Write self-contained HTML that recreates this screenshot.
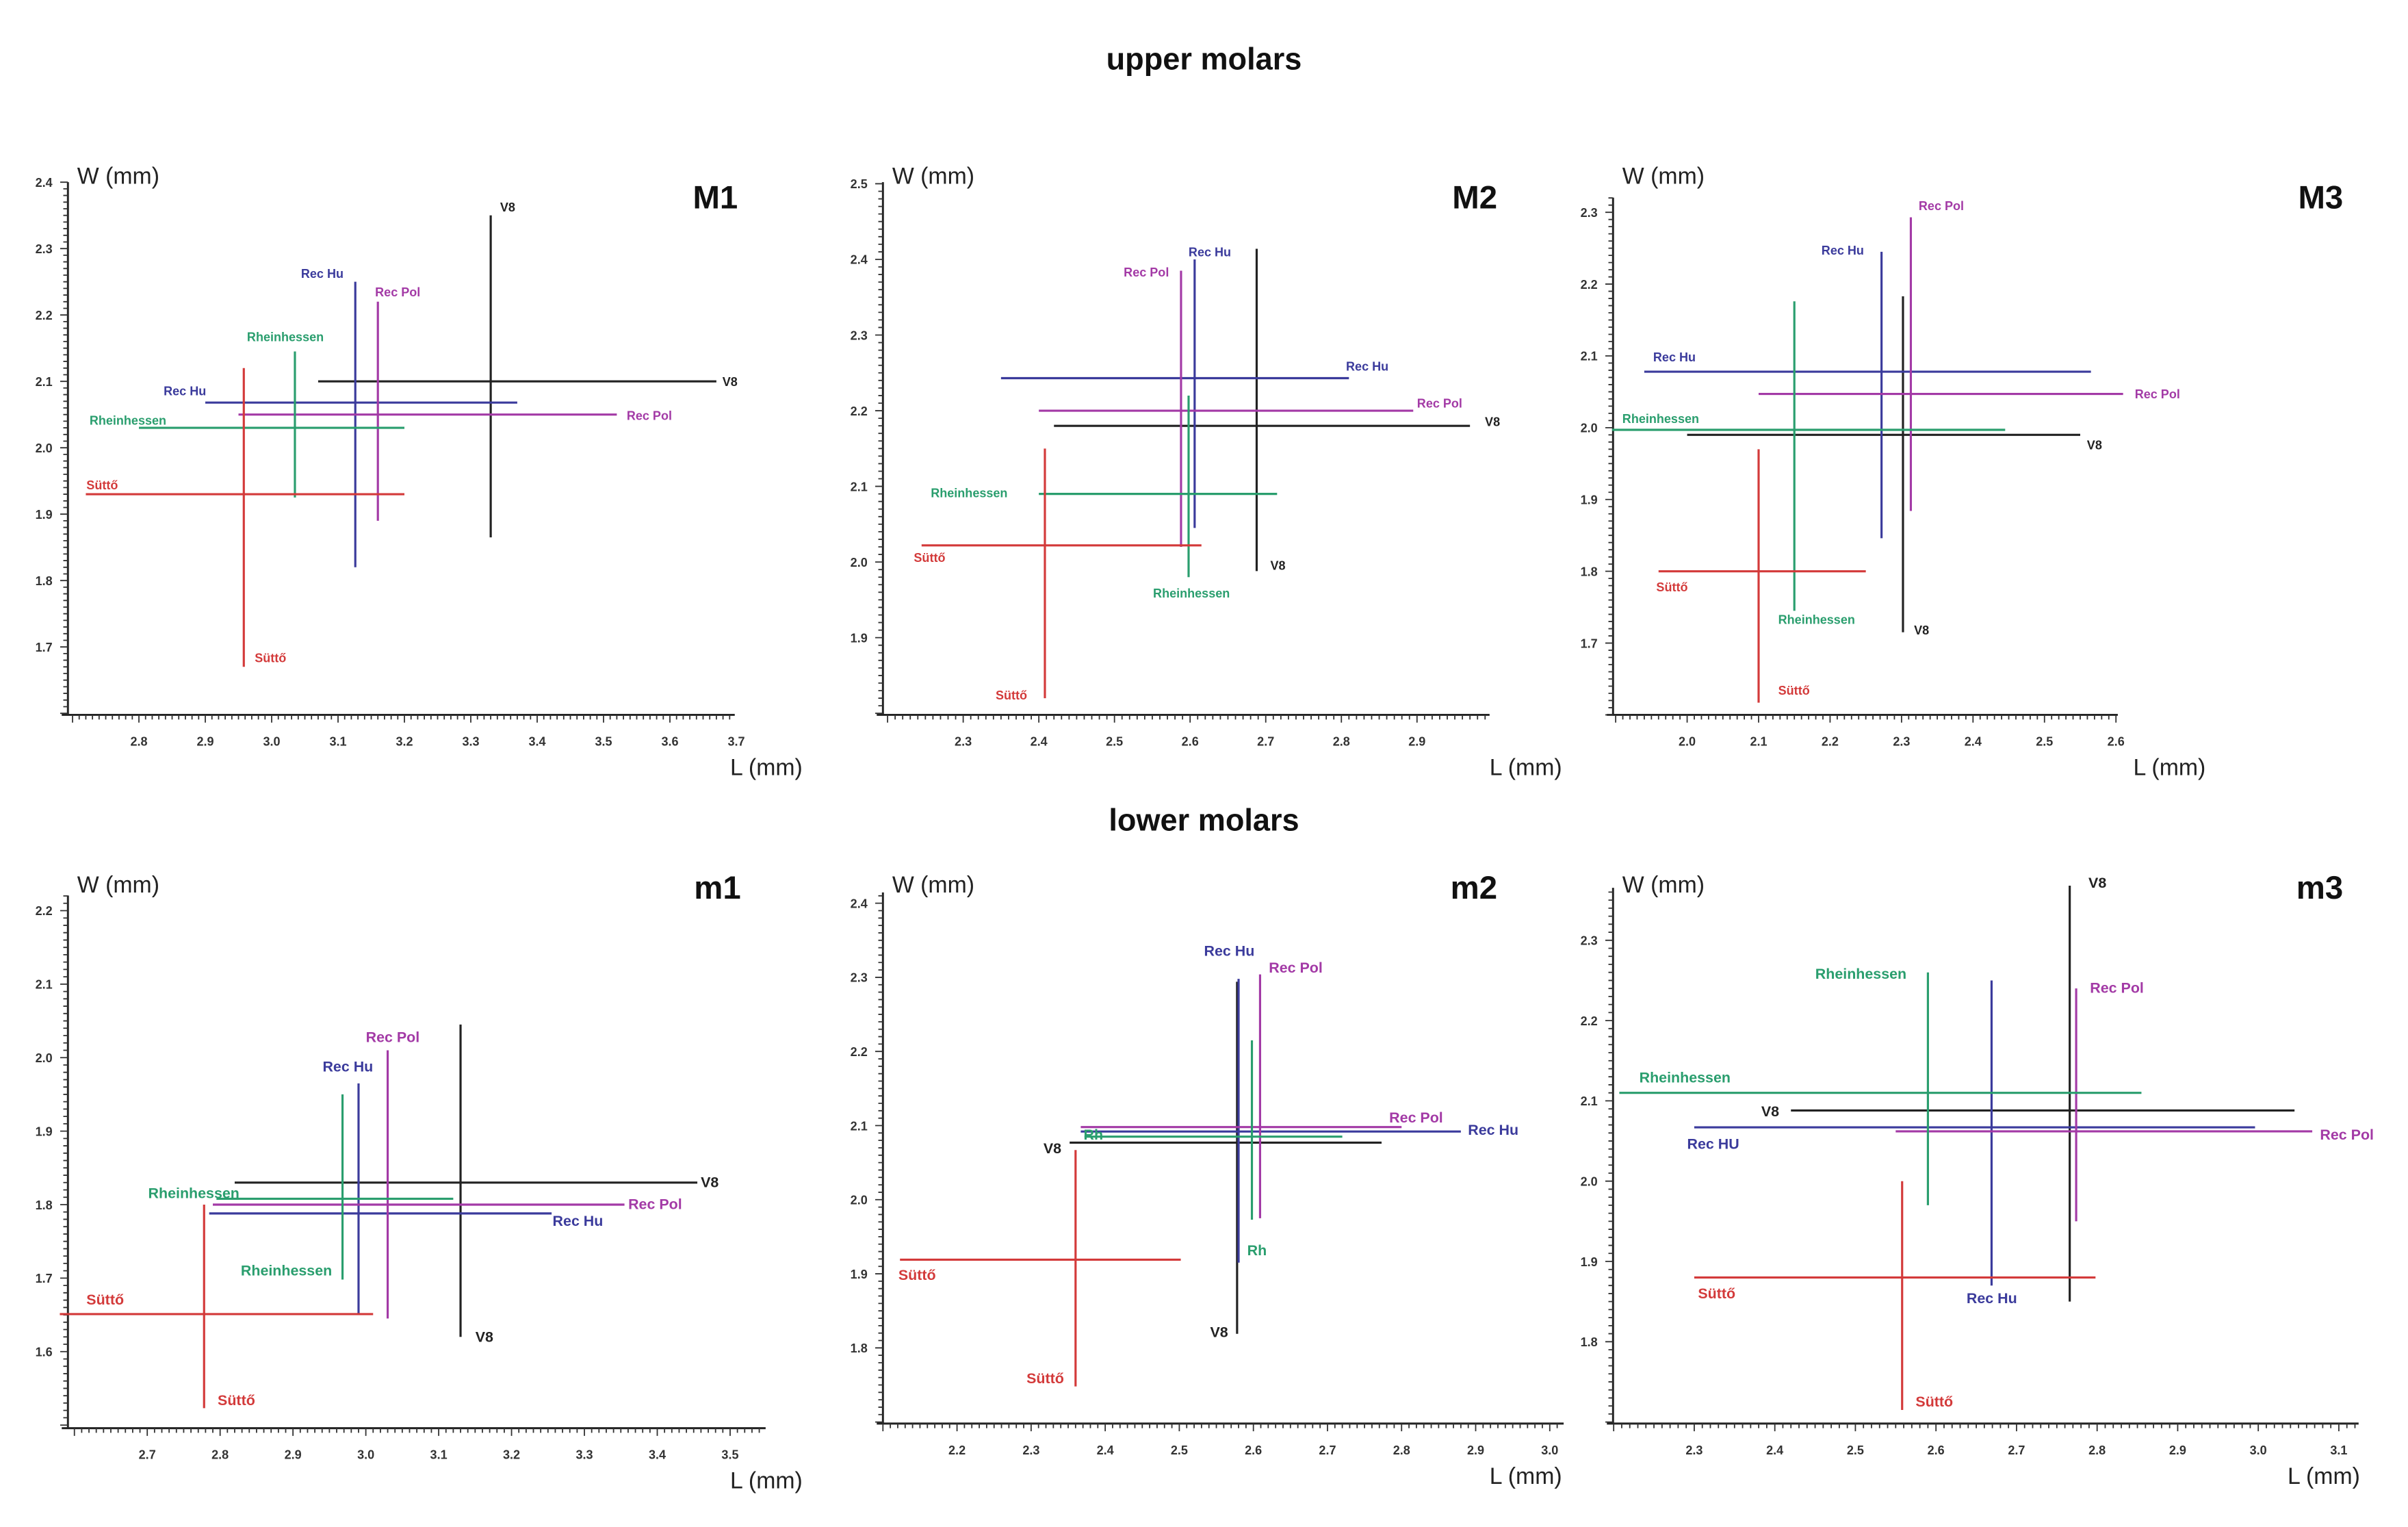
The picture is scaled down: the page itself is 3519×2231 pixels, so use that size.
<!DOCTYPE html>
<html><head><meta charset="utf-8"><style>
html,body{margin:0;padding:0;background:#fff}
svg{display:block}
text{font-family:"Liberation Sans",sans-serif}
</style></head><body>
<svg id="fig" width="3519" height="2231" viewBox="0 0 1560 989" preserveAspectRatio="none" xmlns="http://www.w3.org/2000/svg">
<text x="780" y="45" font-size="20" font-weight="bold" text-anchor="middle" fill="#111">upper molars</text>
<text x="780" y="538" font-size="20" font-weight="bold" text-anchor="middle" fill="#111">lower molars</text>
</svg>
<script>
const groups = ["V8","Rec Hu","Rec Pol","Rheinhessen","Süttő"];
// M1
const M1_lMean=[3.33,3.126,3.16,3.035,2.958];
const M1_lMin=[3.07,2.90,2.95,2.80,2.72];
const M1_lMax=[3.67,3.37,3.52,3.20,3.20];
const M1_wMean=[2.10,2.068,2.05,2.03,1.93];
const M1_wMin=[1.865,1.82,1.89,1.925,1.67];
const M1_wMax=[2.35,2.25,2.22,2.145,2.12];
const M1_xTicks=["2.8","2.9","3.0","3.1","3.2","3.3","3.4","3.5","3.6","3.7"];
const M1_yTicks=["1.7","1.8","1.9","2.0","2.1","2.2","2.3","2.4"];
// M2
const M2_lMean=[2.688,2.606,2.588,2.598,2.408];
const M2_lMin=[2.42,2.35,2.40,2.40,2.245];
const M2_lMax=[2.97,2.81,2.895,2.715,2.615];
const M2_wMean=[2.18,2.243,2.20,2.09,2.022];
const M2_wMin=[1.988,2.045,2.02,1.98,1.82];
const M2_wMax=[2.414,2.40,2.385,2.22,2.15];
const M2_xTicks=["2.3","2.4","2.5","2.6","2.7","2.8","2.9"];
const M2_yTicks=["1.9","2.0","2.1","2.2","2.3","2.4","2.5"];
// M3
const M3_lMean=[2.302,2.272,2.313,2.15,2.10];
const M3_lMin=[2.00,1.94,2.10,1.895,1.96];
const M3_lMax=[2.55,2.565,2.61,2.445,2.25];
const M3_wMean=[1.99,2.078,2.047,1.997,1.80];
const M3_wMin=[1.715,1.846,1.884,1.745,1.617];
const M3_wMax=[2.183,2.245,2.293,2.176,1.97];
const M3_xTicks=["2.0","2.1","2.2","2.3","2.4","2.5","2.6"];
const M3_yTicks=["1.7","1.8","1.9","2.0","2.1","2.2","2.3"];
// m1
const m1_lMean=[3.13,2.99,3.03,2.968,2.778];
const m1_lMin=[2.82,2.785,2.79,2.795,2.58];
const m1_lMax=[3.455,3.255,3.355,3.12,3.01];
const m1_wMean=[1.83,1.788,1.80,1.808,1.651];
const m1_wMin=[1.62,1.65,1.645,1.698,1.523];
const m1_wMax=[2.045,1.965,2.01,1.95,1.80];
const m1_xTicks=["2.7","2.8","2.9","3.0","3.1","3.2","3.3","3.4","3.5"];
const m1_yTicks=["1.6","1.7","1.8","1.9","2.0","2.1","2.2"];
// m2
const m2_lMean=[2.578,2.58,2.609,2.598,2.36];
const m2_lMin=[2.352,2.367,2.367,2.372,2.123];
const m2_lMax=[2.773,2.88,2.80,2.72,2.502];
const m2_wMean=[2.077,2.092,2.098,2.085,1.919];
const m2_wMin=[1.819,1.915,1.975,1.973,1.748];
const m2_wMax=[2.294,2.298,2.304,2.215,2.067];
const m2_xTicks=["2.2","2.3","2.4","2.5","2.6","2.7","2.8","2.9","3.0"];
const m2_yTicks=["1.8","1.9","2.0","2.1","2.2","2.3","2.4"];
// m3
const m3_lMean=[2.766,2.669,2.774,2.59,2.558];
const m3_lMin=[2.42,2.30,2.55,2.207,2.30];
const m3_lMax=[3.045,2.996,3.067,2.855,2.798];
const m3_wMean=[2.088,2.067,2.062,2.11,1.88];
const m3_wMin=[1.85,1.87,1.95,1.97,1.715];
const m3_wMax=[2.368,2.25,2.24,2.26,2.00];
const m3_xTicks=["2.3","2.4","2.5","2.6","2.7","2.8","2.9","3.0","3.1"];
const m3_yTicks=["1.8","1.9","2.0","2.1","2.2","2.3"];

const colors=["#222","#3b3b9c","#a33aa6","#2a9e6e","#d33a3a"];
const NS="http://www.w3.org/2000/svg";
const svg=document.getElementById('fig');
function mk(tag,attrs,parent){const e=document.createElementNS(NS,tag);for(const k in attrs)e.setAttribute(k,attrs[k]);(parent||svg).appendChild(e);return e;}

const panels=[
 {id:"M1",d:[M1_lMean,M1_lMin,M1_lMax,M1_wMean,M1_wMin,M1_wMax],xt:M1_xTicks,yt:M1_yTicks,
  ax:44,axEnd:476,ayTop:118,ayBot:463,xv:2.8,xp:90,xs:430,yv:2.0,yp:290,ys:430,tx:478,ty:135,lx:473,
  labels:[[324,137,0,"V8"],[468,250,0,"V8"],[195,180,1,"Rec Hu"],[106,256,1,"Rec Hu"],[243,192,2,"Rec Pol"],[406,272,2,"Rec Pol"],[160,221,3,"Rheinhessen"],[58,275,3,"Rheinhessen"],[56,317,4,"Süttő"],[165,429,4,"Süttő"]]},
 {id:"M2",d:[M2_lMean,M2_lMin,M2_lMax,M2_wMean,M2_wMin,M2_wMax],xt:M2_xTicks,yt:M2_yTicks,
  ax:572,axEnd:965,ayTop:118,ayBot:463,xv:2.6,xp:771,xs:490,yv:2.0,yp:364,ys:490,tx:970,ty:135,lx:965,
  labels:[[823,369,0,"V8"],[962,276,0,"V8"],[770,166,1,"Rec Hu"],[872,240,1,"Rec Hu"],[728,179,2,"Rec Pol"],[918,264,2,"Rec Pol"],[603,322,3,"Rheinhessen"],[747,387,3,"Rheinhessen"],[592,364,4,"Süttő"],[645,453,4,"Süttő"]]},
 {id:"M3",d:[M3_lMean,M3_lMin,M3_lMax,M3_wMean,M3_wMin,M3_wMax],xt:M3_xTicks,yt:M3_yTicks,
  ax:1045,axEnd:1372,ayTop:128,ayBot:463,xv:2.0,xp:1093,xs:463,yv:2.0,yp:277,ys:465,tx:1518,ty:135,lx:1382,
  labels:[[1240,411,0,"V8"],[1352,291,0,"V8"],[1180,165,1,"Rec Hu"],[1071,234,1,"Rec Hu"],[1243,136,2,"Rec Pol"],[1383,258,2,"Rec Pol"],[1051,274,3,"Rheinhessen"],[1152,404,3,"Rheinhessen"],[1073,383,4,"Süttő"],[1152,450,4,"Süttő"]]},
 {id:"m1",d:[m1_lMean,m1_lMin,m1_lMax,m1_wMean,m1_wMin,m1_wMax],xt:m1_xTicks,yt:m1_yTicks,
  ax:44,axEnd:496,ayTop:580,ayBot:925,xv:3.0,xp:237,xs:472,yv:2.0,yp:685,ys:476,tx:480,ty:582,lx:473,
  labels:[[308,869,0,"V8"],[454,769,0,"V8"],[209,694,1,"Rec Hu"],[358,794,1,"Rec Hu"],[237,675,2,"Rec Pol"],[407,783,2,"Rec Pol"],[96,776,3,"Rheinhessen"],[156,826,3,"Rheinhessen"],[56,845,4,"Süttő"],[141,910,4,"Süttő"]]},
 {id:"m2",d:[m2_lMean,m2_lMin,m2_lMax,m2_wMean,m2_wMin,m2_wMax],xt:m2_xTicks,yt:m2_yTicks,
  ax:572,axEnd:1013,ayTop:578,ayBot:922,xv:2.5,xp:764,xs:480,yv:2.0,yp:777,ys:480,tx:970,ty:582,lx:965,
  labels:[[676,747,0,"V8"],[784,866,0,"V8"],[780,619,1,"Rec Hu"],[951,735,1,"Rec Hu"],[822,630,2,"Rec Pol"],[900,727,2,"Rec Pol"],[702,738,3,"Rh"],[808,813,3,"Rh"],[582,829,4,"Süttő"],[665,896,4,"Süttő"]]},
 {id:"m3",d:[m3_lMean,m3_lMin,m3_lMax,m3_wMean,m3_wMin,m3_wMax],xt:m3_xTicks,yt:m3_yTicks,
  ax:1045,axEnd:1528,ayTop:575,ayBot:922,xv:2.5,xp:1202,xs:522,yv:2.0,yp:765,ys:520,tx:1518,ty:582,lx:1482,
  labels:[[1353,575,0,"V8"],[1141,723,0,"V8"],[1274,844,1,"Rec Hu"],[1093,744,1,"Rec HU"],[1354,643,2,"Rec Pol"],[1503,738,2,"Rec Pol"],[1176,634,3,"Rheinhessen"],[1062,701,3,"Rheinhessen"],[1100,841,4,"Süttő"],[1241,911,4,"Süttő"]]}
];

panels.forEach(p=>{
  const X=v=>p.xp+(v-p.xv)*p.xs;
  const Y=v=>p.yp-(v-p.yv)*p.ys;
  const g=mk('g',{});
  
  
  const ya=mk('line',{x1:p.ax,y1:p.ayTop,x2:p.ax,y2:p.ayBot,stroke:'#222','stroke-width':1.3},g);
  
  
  const xa=mk('line',{x1:p.ax-4,y1:p.ayBot,x2:p.axEnd,y2:p.ayBot,stroke:'#222','stroke-width':1.3},g);
  
  
  let path='';
  const xvStart=p.xv+(p.ax-p.xp)/p.xs, xvEnd=p.xv+(p.axEnd-p.xp)/p.xs;
  for(let k=Math.ceil(xvStart*100);k<=Math.floor(xvEnd*100);k++){const x=X(k/100);const maj=k%10===0;path+=`M${x.toFixed(2)},${p.ayBot}v${maj?5:3}`;}
  const yvTop=p.yv+(p.yp-p.ayTop)/p.ys, yvBot=p.yv+(p.yp-p.ayBot)/p.ys;
  for(let k=Math.ceil(yvBot*100);k<=Math.floor(yvTop*100);k++){const y=Y(k/100);const maj=k%10===0;path+=`M${p.ax},${y.toFixed(2)}h${maj?-5:-3}`;}
  const tk=mk('path',{d:path,stroke:'#333','stroke-width':0.8,fill:'none'},g);
  
  
  p.xt.forEach(t=>{const e=mk('text',{x:X(parseFloat(t)),y:p.ayBot+20,'font-size':8,'font-weight':'bold','text-anchor':'middle',fill:'#333'},g);e.textContent=t;
    
    });
  p.yt.forEach(t=>{const e=mk('text',{x:p.ax-10,y:Y(parseFloat(t))+3,'font-size':8,'font-weight':'bold','text-anchor':'end',fill:'#333'},g);e.textContent=t;
    
    });
  const wt=mk('text',{x:p.ax+6,y:(p.id[0]==='M'?119:578),'font-size':15,fill:'#222'},g);wt.textContent='W (mm)';
  
  
  const lt=mk('text',{x:p.lx,y:p.ayBot+39,'font-size':15,fill:'#222'},g);lt.textContent='L (mm)';
  
  
  const tt=mk('text',{x:p.tx,y:p.ty,'font-size':21,'font-weight':'bold','text-anchor':'end',fill:'#111'},g);tt.textContent=p.id;
  
  
  const [lM,lMin,lMax,wM,wMin,wMax]=p.d;
  groups.forEach((n,i)=>{
    const h=mk('line',{x1:X(lMin[i]),x2:X(lMax[i]),y1:Y(wM[i]),y2:Y(wM[i]),stroke:colors[i],'stroke-width':1.4},g);
    
    
    const v=mk('line',{x1:X(lM[i]),x2:X(lM[i]),y1:Y(wMin[i]),y2:Y(wMax[i]),stroke:colors[i],'stroke-width':1.4},g);
    
    
  });
  p.labels.forEach(l=>{
    const e=mk('text',{x:l[0],y:l[1],'font-size':(p.id[0]==='M'?8:9.5),'font-weight':'bold',fill:colors[l[2]]},g);
    e.textContent=l[3];
    
    
  });
});
</script>
</body></html>
